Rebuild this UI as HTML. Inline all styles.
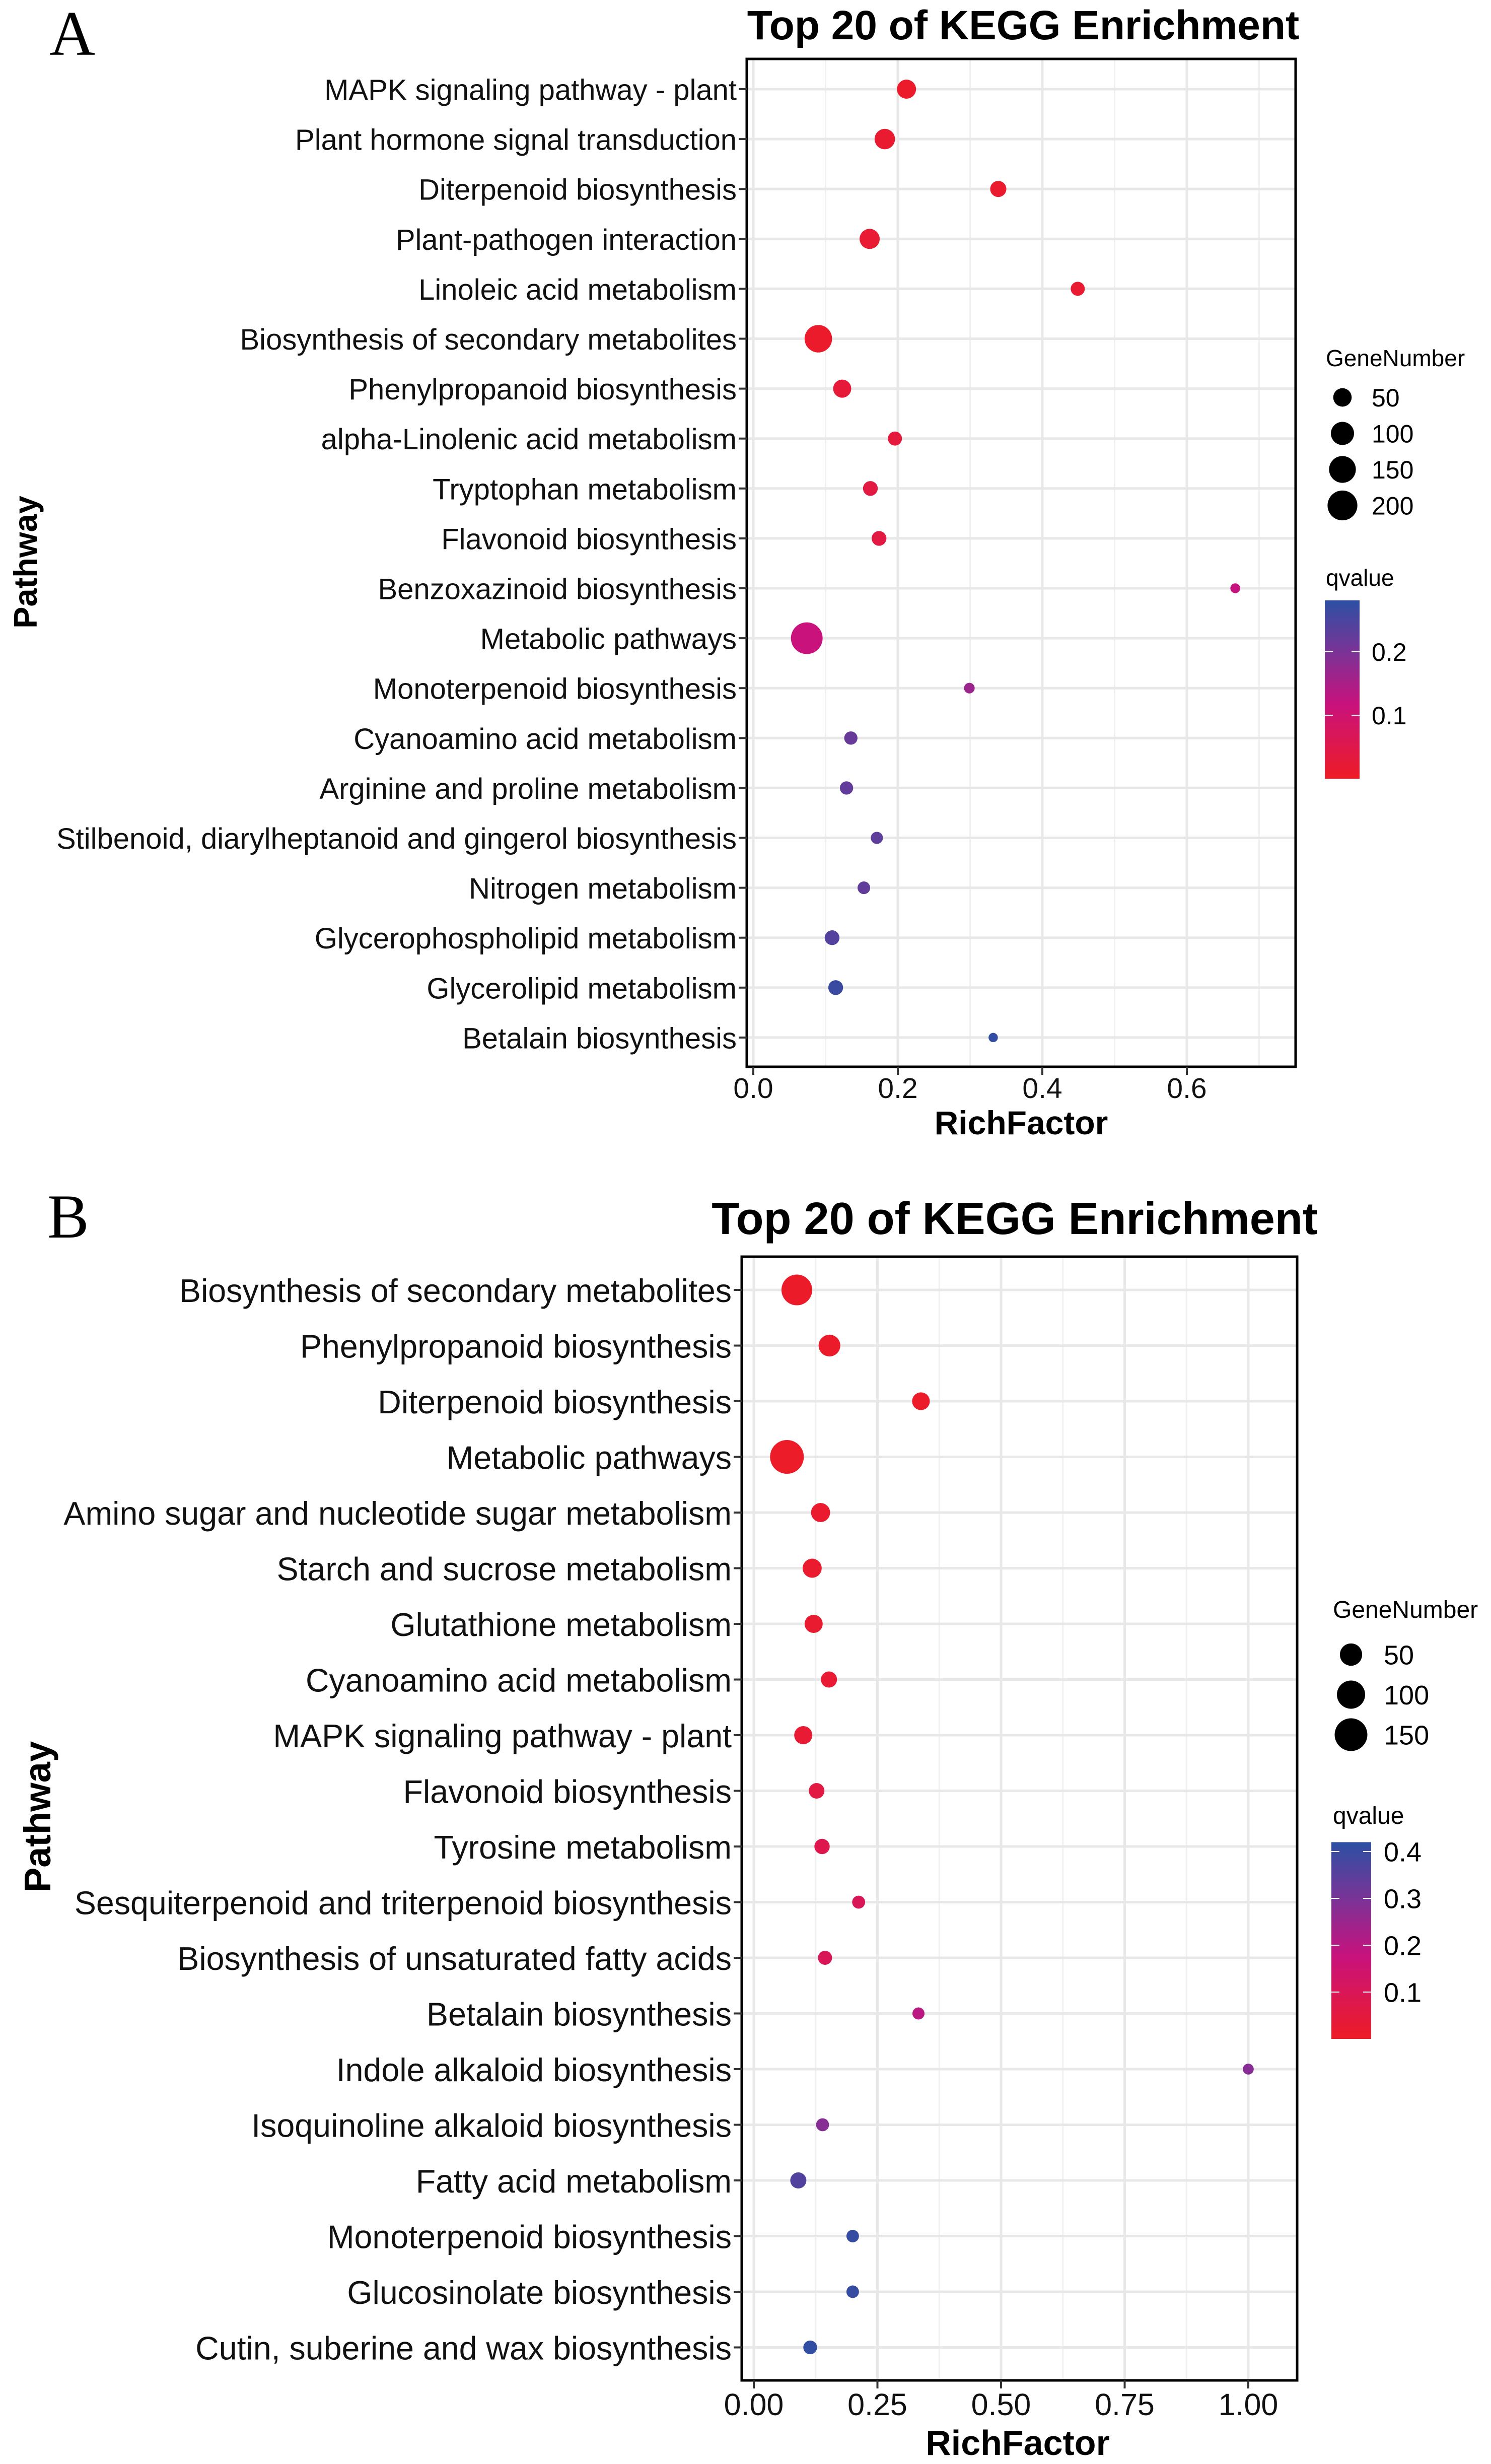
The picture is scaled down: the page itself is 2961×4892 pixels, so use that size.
<!DOCTYPE html>
<html><head><meta charset="utf-8"><title>KEGG Enrichment</title>
<style>html,body{margin:0;padding:0;background:#fff;}svg{display:block;}text{font-family:"Liberation Sans",sans-serif;}</style>
</head><body>
<svg id="fig" xmlns="http://www.w3.org/2000/svg" width="2961" height="4892" viewBox="0 0 2961 4892">
<rect x="0" y="0" width="2961" height="4892" fill="#fff"/>
</svg>
<script>
// ---------- Panel A data ----------
const catsA = ["MAPK signaling pathway - plant","Plant hormone signal transduction","Diterpenoid biosynthesis","Plant-pathogen interaction","Linoleic acid metabolism","Biosynthesis of secondary metabolites","Phenylpropanoid biosynthesis","alpha-Linolenic acid metabolism","Tryptophan metabolism","Flavonoid biosynthesis","Benzoxazinoid biosynthesis","Metabolic pathways","Monoterpenoid biosynthesis","Cyanoamino acid metabolism","Arginine and proline metabolism","Stilbenoid, diarylheptanoid and gingerol biosynthesis","Nitrogen metabolism","Glycerophospholipid metabolism","Glycerolipid metabolism","Betalain biosynthesis"];
const richA = [0.212,0.182,0.339,0.161,0.449,0.090,0.123,0.196,0.162,0.174,0.667,0.074,0.299,0.135,0.129,0.171,0.153,0.109,0.114,0.332];
const genesA = [56,69,32,66,19,161,47,19,23,23,3,234,5,15,15,10,12,23,23,2];
const qA = [0.010,0.015,0.012,0.020,0.015,0.010,0.025,0.030,0.040,0.040,0.120,0.115,0.165,0.220,0.225,0.230,0.225,0.240,0.265,0.275];
const xTicksA = [0.0,0.2,0.4,0.6];
const xTickLabelsA = ["0.0","0.2","0.4","0.6"];
const xMinorA = [0.1,0.3,0.5,0.7];
const sizeLegendA = [50,100,150,200];
const qTicksA = [0.1,0.2];
const qTickLabelsA = ["0.1","0.2"];
// ---------- Panel B data ----------
const catsB = ["Biosynthesis of secondary metabolites","Phenylpropanoid biosynthesis","Diterpenoid biosynthesis","Metabolic pathways","Amino sugar and nucleotide sugar metabolism","Starch and sucrose metabolism","Glutathione metabolism","Cyanoamino acid metabolism","MAPK signaling pathway - plant","Flavonoid biosynthesis","Tyrosine metabolism","Sesquiterpenoid and triterpenoid biosynthesis","Biosynthesis of unsaturated fatty acids","Betalain biosynthesis","Indole alkaloid biosynthesis","Isoquinoline alkaloid biosynthesis","Fatty acid metabolism","Monoterpenoid biosynthesis","Glucosinolate biosynthesis","Cutin, suberine and wax biosynthesis"];
const richB = [0.087,0.153,0.338,0.067,0.135,0.118,0.121,0.152,0.100,0.127,0.138,0.212,0.144,0.333,1.000,0.139,0.090,0.200,0.200,0.114];
const genesB = [127,46,23,163,30,30,25,16,25,14,13,6,9,4,2,6,16,5,5,8];
const qB = [0.010,0.012,0.010,0.008,0.020,0.020,0.025,0.030,0.030,0.060,0.080,0.100,0.100,0.200,0.280,0.280,0.360,0.405,0.405,0.410];
const xTicksB = [0.00,0.25,0.50,0.75,1.00];
const xTickLabelsB = ["0.00","0.25","0.50","0.75","1.00"];
const xMinorB = [0.125,0.375,0.625,0.875];
const sizeLegendB = [50,100,150];
const qTicksB = [0.1,0.2,0.3,0.4];
const qTickLabelsB = ["0.1","0.2","0.3","0.4"];

const NS = "http://www.w3.org/2000/svg";
const svg = document.getElementById('fig');
function mk(tag, attrs, parent, txt) {
  const e = document.createElementNS(NS, tag);
  for (const k in attrs) e.setAttribute(k, attrs[k]);
  if (txt !== undefined) e.textContent = txt;
  (parent || svg).appendChild(e);
  return e;
}
const stops = [[0,[238,28,37]],[0.42,[200,18,125]],[0.70,[125,50,150]],[1,[44,80,163]]];
function colorAt(t) {
  t = Math.max(0, Math.min(1, t));
  for (let i = 1; i < stops.length; i++) {
    if (t <= stops[i][0]) {
      const a = stops[i-1], b = stops[i], f = (t - a[0]) / (b[0] - a[0]);
      const c = a[1].map((v, j) => Math.round(v + (b[1][j] - v) * f));
      return 'rgb(' + c.join(',') + ')';
    }
  }
  return 'rgb(44,80,163)';
}

function drawPanel(cfg) {
  const g = mk('g', {});
  
  
  const xs = v => cfg.x0 + v * cfg.unit;
  const ys = i => cfg.row0 + i * cfg.rowStep;
  const rs = n => cfg.ra + cfg.rb * Math.sqrt(n);
  const qy = q => cfg.cbBottom - q * cfg.cbUnit;
  const pl = mk('text', {x: cfg.letterX, y: cfg.letterY, 'font-size': cfg.letterSize, style: 'font-family:"Liberation Serif",serif'}, g, cfg.letter);
  
  
  const t = mk('text', {x: cfg.titleX, y: cfg.titleY, 'font-size': cfg.titleSize, 'font-weight': 'bold', 'text-anchor': 'middle'}, g, 'Top 20 of KEGG Enrichment');
  
  
  const grid = mk('g', {}, g);
  
  
  cfg.minor.forEach(v => { if (xs(v) < cfg.right) mk('line', {x1: xs(v), x2: xs(v), y1: cfg.top, y2: cfg.bottom, stroke: '#f0f0f0', 'stroke-width': 3}, grid); });
  cfg.ticks.forEach(v => mk('line', {x1: xs(v), x2: xs(v), y1: cfg.top, y2: cfg.bottom, stroke: '#e8e8e8', 'stroke-width': 5}, grid));
  cfg.cats.forEach((c, i) => mk('line', {x1: cfg.left, x2: cfg.right, y1: ys(i), y2: ys(i), stroke: '#e8e8e8', 'stroke-width': 5}, grid));
  const pts = mk('g', {}, g);
  
  
  cfg.cats.forEach((c, i) => {
    const p = mk('circle', {cx: xs(cfg.rich[i]), cy: ys(i), r: rs(cfg.genes[i]), fill: colorAt(cfg.q[i] / cfg.qMax)}, pts);
    
    
  });
  const b = mk('rect', {x: cfg.left, y: cfg.top, width: cfg.right - cfg.left, height: cfg.bottom - cfg.top, fill: 'none', stroke: '#000', 'stroke-width': 5}, g);
  
  
  const ya = mk('g', {}, g);
  
  
  cfg.cats.forEach((c, i) => {
    mk('line', {x1: cfg.left - 16, x2: cfg.left, y1: ys(i), y2: ys(i), stroke: '#333', 'stroke-width': 4}, ya);
    const l = mk('text', {x: cfg.left - 20, y: ys(i) + cfg.labelSize * 0.37, 'font-size': cfg.labelSize, 'text-anchor': 'end', fill: '#111'}, ya, c);
    
    
  });
  const xa = mk('g', {}, g);
  
  
  cfg.ticks.forEach((v, i) => {
    mk('line', {x1: xs(v), x2: xs(v), y1: cfg.bottom, y2: cfg.bottom + 16, stroke: '#333', 'stroke-width': 4}, xa);
    const l = mk('text', {x: xs(v), y: cfg.tickY, 'font-size': cfg.tickSize, 'text-anchor': 'middle', fill: '#111'}, xa, cfg.tickLabels[i]);
    
    
  });
  const xt = mk('text', {x: cfg.xTitleX, y: cfg.xTitleY, 'font-size': cfg.xTitleSize, 'font-weight': 'bold', 'text-anchor': 'middle'}, g, 'RichFactor');
  
  
  const yt = mk('text', {x: 0, y: 0, 'font-size': cfg.yTitleSize, 'font-weight': 'bold', 'text-anchor': 'middle', transform: 'translate(' + cfg.yTitleX + ',' + cfg.yTitleY + ') rotate(-90)'}, g, 'Pathway');
  
  
  const sl = mk('g', {}, g);
  
  
  mk('text', {x: cfg.legX, y: cfg.sizeTitleY, 'font-size': cfg.legTitleSize}, sl, 'GeneNumber');
  cfg.sizeLegend.forEach((n, i) => {
    const cy = cfg.sizeY0 + i * cfg.sizeStep;
    const c = mk('circle', {cx: cfg.sizeCx, cy: cy, r: rs(n), fill: '#000'}, sl);
    
    
    mk('text', {x: cfg.legLabelX, y: cy + cfg.legLabelSize * 0.36, 'font-size': cfg.legLabelSize}, sl, String(n));
  });
  const cl = mk('g', {}, g);
  
  
  mk('text', {x: cfg.legX, y: cfg.qTitleY, 'font-size': cfg.legTitleSize}, cl, 'qvalue');
  const gid = 'grad' + cfg.id;
  const defs = mk('defs', {}, cl);
  const lg = mk('linearGradient', {id: gid, x1: 0, y1: 1, x2: 0, y2: 0}, defs);
  stops.forEach(s => mk('stop', {offset: s[0], 'stop-color': colorAt(s[0])}, lg));
  const cbTop = qy(cfg.qMax);
  mk('rect', {x: cfg.cbX, y: cbTop, width: cfg.cbW, height: cfg.cbBottom - cbTop, fill: 'url(#' + gid + ')'}, cl);
  cfg.qTicks.forEach((q, i) => {
    mk('line', {x1: cfg.cbX, x2: cfg.cbX + 16, y1: qy(q), y2: qy(q), stroke: '#fff', 'stroke-width': 2}, cl);
    mk('line', {x1: cfg.cbX + cfg.cbW - 16, x2: cfg.cbX + cfg.cbW, y1: qy(q), y2: qy(q), stroke: '#fff', 'stroke-width': 2}, cl);
    mk('text', {x: cfg.legLabelX, y: qy(q) + cfg.legLabelSize * 0.36, 'font-size': cfg.legLabelSize}, cl, cfg.qTickLabels[i]);
  });
}

drawPanel({id: 'panel-a', letter: 'A', letterX: 98, letterY: 109, letterSize: 126,
  titleX: 2032, titleY: 78, titleSize: 82,
  cats: catsA, rich: richA, genes: genesA, q: qA, qMax: 0.281,
  ticks: xTicksA, tickLabels: xTickLabelsA, minor: xMinorA,
  left: 1483, right: 2573, top: 117, bottom: 2118,
  x0: 1496, unit: 1435, row0: 177, rowStep: 99.1,
  ra: 7, rb: 1.6, labelSize: 58, tickY: 2180, tickSize: 57,
  xTitleX: 2028, xTitleY: 2252, xTitleSize: 66,
  yTitleX: 73, yTitleY: 1116, yTitleSize: 65,
  legX: 2633, sizeTitleY: 727, legTitleSize: 46, sizeCx: 2666, sizeY0: 789, sizeStep: 71.5,
  legLabelX: 2724, legLabelSize: 50, sizeLegend: sizeLegendA,
  qTitleY: 1163, cbX: 2631, cbW: 69, cbBottom: 1546, cbUnit: 1260,
  qTicks: qTicksA, qTickLabels: qTickLabelsA});

drawPanel({id: 'panel-b', letter: 'B', letterX: 94, letterY: 2457, letterSize: 124,
  titleX: 2015, titleY: 2450, titleSize: 90,
  cats: catsB, rich: richB, genes: genesB, q: qB, qMax: 0.42,
  ticks: xTicksB, tickLabels: xTickLabelsB, minor: xMinorB,
  left: 1473, right: 2576, top: 2495, bottom: 4726,
  x0: 1497, unit: 982, row0: 2561, rowStep: 110.5,
  ra: 8, rb: 2.0, labelSize: 64.5, tickY: 4795, tickSize: 61,
  xTitleX: 2021, xTitleY: 4874, xTitleSize: 70,
  yTitleX: 100, yTitleY: 3607, yTitleSize: 74,
  legX: 2647, sizeTitleY: 3212, legTitleSize: 48, sizeCx: 2683, sizeY0: 3285, sizeStep: 79.5,
  legLabelX: 2748, legLabelSize: 54, sizeLegend: sizeLegendB,
  qTitleY: 3621, cbX: 2644, cbW: 79, cbBottom: 4048, cbUnit: 930,
  qTicks: qTicksB, qTickLabels: qTickLabelsB});
</script>
</body></html>
